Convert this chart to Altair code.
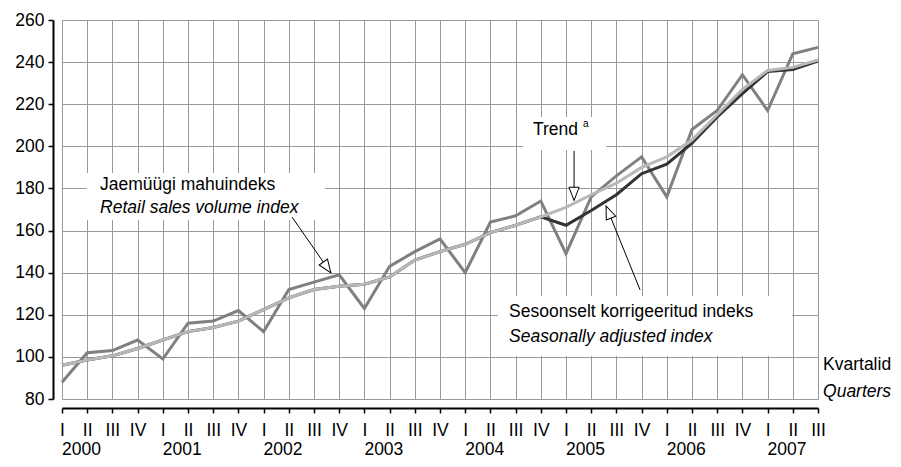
import altair as alt
import pandas as pd

# ---------------- data ----------------
quarter_idx = list(range(31))          # 2000 Q1 ... 2007 Q3
roman = ["I", "II", "III", "IV"]
years = [2000, 2001, 2002, 2003, 2004, 2005, 2006, 2007]
year_start_q = [0, 4, 8, 12, 16, 20, 24, 28]

retail = [88, 102, 103, 108, 99, 116, 117, 122, 112, 132, 135.5, 139,
          123, 143, 150, 156, 140, 164, 167, 174, 149, 176, 186, 195,
          176, 208, 217, 234, 217, 244, 247]
trend = [96, 98.5, 100.5, 104, 108, 112, 114, 117, 122.5, 128, 132, 133.5,
         134.5, 138, 146, 150, 153.5, 159, 162.5, 166.5, 171, 177, 182.5, 190,
         195, 203, 215, 227, 236, 237.5, 241]
seasonal = [96, 98.5, 100.5, 104, 108, 112, 114, 117, 122.5, 128, 132, 133.5,
            134.5, 138, 146, 150, 153.5, 159, 162.5, 166.5, 162.5, 169.5, 177, 187,
            191.5, 201.5, 214, 225, 235.5, 236.5, 240.5]

# annotation boxes (white backgrounds behind labels)
box_q1 = [0.98, 18.29, 17.30]
box_q2 = [10.44, 21.59, 28.97]
box_v1 = [187.3, 213.9, 128.9]
box_v2 = [165.0, 198.3, 100.4]

# annotation labels
label_text = ["Jaemüügi mahuindeks", "Retail sales volume index", "Trend",
              "Sesoonselt korrigeeritud indeks", "Seasonally adjusted index",
              "Kvartalid", "Quarters"]
label_q = [1.51, 1.51, 18.69, 17.74, 17.74, 30.2, 30.2]
label_v = [181.6, 170.7, 207.8, 121.3, 109.5, 96.2, 83.3]
label_style = ["normal", "italic", "normal", "normal", "italic", "normal", "italic"]

sup_text = ["a"]
sup_q = [20.67]
sup_v = [210.6]

# arrows
arrow_q_start = [9.13, 20.32, 22.94]
arrow_v_start = [166.4, 197.8, 131.8]
arrow_q_tip = [10.67, 20.32, 21.59]
arrow_v_tip = [139.9, 174.3, 171.7]
arrow_angle = [145, 180, 338]

# ---------------- tables ----------------
df = pd.DataFrame({"q": quarter_idx, "retail": retail, "trend": trend, "sa": seasonal})
boxes = pd.DataFrame({"q1": box_q1, "q2": box_q2, "v1": box_v1, "v2": box_v2})
labels = pd.DataFrame({"q": label_q, "v": label_v, "t": label_text, "s": label_style})
sups = pd.DataFrame({"q": sup_q, "v": sup_v, "t": sup_text})
arrows = pd.DataFrame({"q1": arrow_q_start, "v1": arrow_v_start,
                       "q2": arrow_q_tip, "v2": arrow_v_tip, "ang": arrow_angle})
yrs = pd.DataFrame({"q": year_start_q, "t": [str(y) for y in years]})

FONT = "Liberation Sans"
FS = 17.5

xscale = alt.Scale(domain=[0, 30], range=[9, 765], nice=False, zero=False)
yscale = alt.Scale(domain=[80, 260], nice=False, zero=False)

xaxis = alt.Axis(values=quarter_idx, title=None, offset=9,
                 labelExpr="['I','II','III','IV'][datum.value % 4]",
                 domainColor="black", domainWidth=2,
                 tickColor="black", tickWidth=1.5, tickSize=5,
                 labelFont=FONT, labelFontSize=FS, labelColor="black",
                 labelPadding=8, labelAngle=0, labelFlush=False, labelOverlap=False,
                 grid=True, gridColor="#999999", gridWidth=1)
yaxis = alt.Axis(values=list(range(80, 261, 20)), title=None,
                 domainColor="black", domainWidth=2,
                 tickColor="black", tickWidth=1.5, tickSize=5,
                 labelFont=FONT, labelFontSize=FS, labelColor="black",
                 labelPadding=4, labelFlush=False, labelOverlap=False,
                 grid=True, gridColor="#999999", gridWidth=1)


def X(f):
    return alt.X(f, type="quantitative", scale=xscale, axis=xaxis)


def Y(f):
    return alt.Y(f, type="quantitative", scale=yscale, axis=yaxis)


rects = alt.Chart(boxes).mark_rect(fill="white", strokeWidth=0).encode(
    x=X("q1"), x2="q2", y=Y("v1"), y2="v2")

line_retail = alt.Chart(df).mark_line(color="#808080", strokeWidth=3).encode(
    x=X("q"), y=Y("retail"))
line_sa = alt.Chart(df).mark_line(color="#333333", strokeWidth=3).encode(
    x=X("q"), y=Y("sa"))
line_trend = alt.Chart(df).mark_line(color="#b8b8b8", strokeWidth=3).encode(
    x=X("q"), y=Y("trend"))

arrow_lines = alt.Chart(arrows).mark_rule(color="black", strokeWidth=1).encode(
    x=X("q1"), y=Y("v1"), x2="q2", y2="v2")
arrow_heads = alt.Chart(arrows).mark_point(
    shape="M0,0L-0.85,2.2L0.85,2.2Z", filled=True, fill="white",
    stroke="black", strokeWidth=1, size=144, opacity=1).encode(
    x=X("q2"), y=Y("v2"), angle=alt.Angle("ang:Q", scale=None))

text_normal = alt.Chart(labels).transform_filter(alt.datum.s == "normal").mark_text(
    align="left", baseline="middle", font=FONT, fontSize=FS, color="black").encode(
    x=X("q"), y=Y("v"), text="t:N")
text_italic = alt.Chart(labels).transform_filter(alt.datum.s == "italic").mark_text(
    align="left", baseline="middle", font=FONT, fontSize=FS, fontStyle="italic",
    color="black").encode(x=X("q"), y=Y("v"), text="t:N")
text_sup = alt.Chart(sups).mark_text(
    align="left", baseline="middle", font=FONT, fontSize=10, color="black").encode(
    x=X("q"), y=Y("v"), text="t:N")

year_text = alt.Chart(yrs).mark_text(
    align="left", baseline="middle", font=FONT, fontSize=FS, color="black").encode(
    x=X("q"), y=alt.value(430), text="t:N")

chart = alt.layer(
    rects, line_retail, line_sa, line_trend, arrow_lines, arrow_heads,
    text_normal, text_italic, text_sup, year_text
).properties(
    width=765, height=379,
    autosize=alt.AutoSizeParams(type="none"),
    padding={"left": 45, "top": 12, "right": 75, "bottom": 60},
    background="white",
).configure_view(strokeWidth=0)

chart.save("out.html", embed_options={"renderer": "svg", "actions": False})
